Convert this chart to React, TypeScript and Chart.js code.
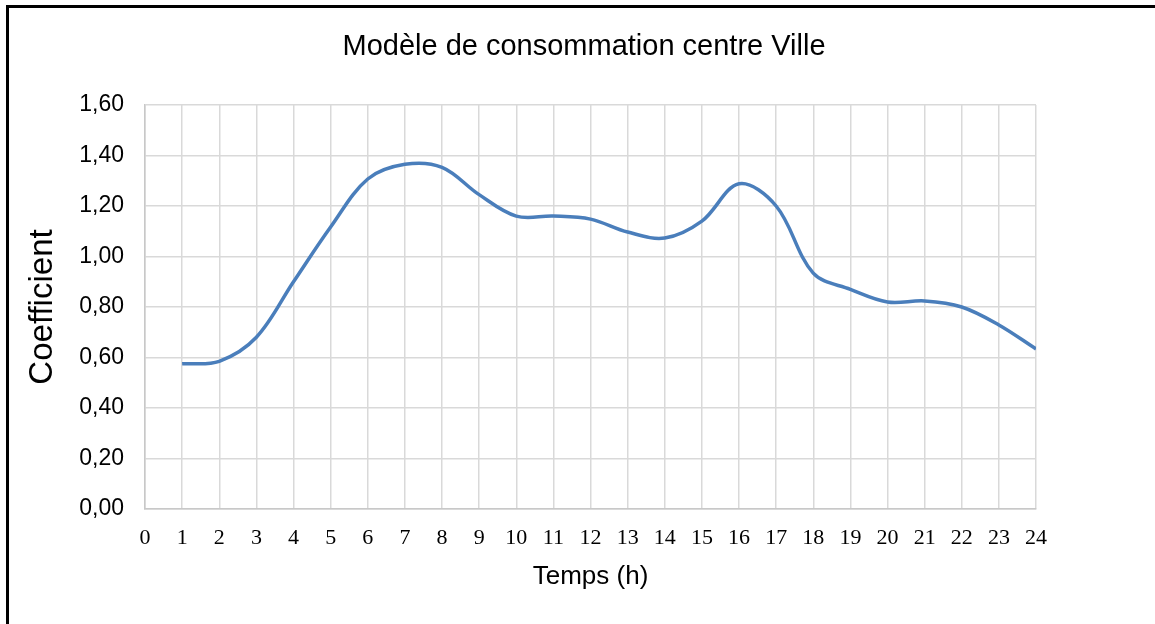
import React, { useEffect, useRef } from "react";
import { Chart, registerables } from "chart.js";

Chart.register(...registerables);

const chartTitle = "Modèle de consommation centre Ville";
const xAxisTitle = "Temps (h)";
const yAxisTitle = "Coefficient";

const hours = [1, 2, 3, 4, 5, 6, 7, 8, 9, 10, 11, 12, 13, 14, 15, 16, 17, 18, 19, 20, 21, 22, 23, 24];
const coefficients = [
  0.575, 0.585, 0.68, 0.9, 1.117, 1.307, 1.365, 1.353, 1.245, 1.16, 1.16, 1.148,
  1.097, 1.073, 1.14, 1.288, 1.2, 0.934, 0.87, 0.82, 0.824, 0.8, 0.729, 0.634,
];

const xTickLabels = [
  "0", "1", "2", "3", "4", "5", "6", "7", "8", "9", "10", "11", "12",
  "13", "14", "15", "16", "17", "18", "19", "20", "21", "22", "23", "24",
];
const yTickLabels = ["0,00", "0,20", "0,40", "0,60", "0,80", "1,00", "1,20", "1,40", "1,60"];

const SANS = '"Liberation Sans", Arial, sans-serif';
const SERIF = '"Liberation Serif", "Times New Roman", serif';

export default function App() {
  const ref = useRef<HTMLCanvasElement>(null);

  useEffect(() => {
    if (!ref.current) return;
    const titlePlugin = {
      id: "fixedTitle",
      afterDraw(chart: any) {
        const ctx = chart.ctx;
        ctx.save();
        ctx.font = `29px ${SANS}`;
        ctx.fillStyle = "#000";
        ctx.textAlign = "center";
        ctx.textBaseline = "alphabetic";
        ctx.fillText(chartTitle, 584, 55);
        ctx.restore();
      },
    };

    const chart = new Chart(ref.current, {
      type: "line",
      data: {
        datasets: [
          {
            data: hours.map((h, i) => ({ x: h, y: coefficients[i] })),
            borderColor: "#4a7ebb",
            borderWidth: 3.5,
            pointRadius: 0,
            tension: 0.35,
            fill: false,
          },
        ],
      },
      options: {
        animation: false,
        responsive: false,
        devicePixelRatio: 1,
        layout: { padding: { top: 105, right: 119, bottom: 0, left: 0 } },
        plugins: {
          legend: { display: false },
          tooltip: { enabled: false },
          title: { display: false },
        },
        scales: {
          x: {
            type: "linear",
            min: 0,
            max: 24,
            afterFit: (s: any) => {
              s.height = 115;
            },
            ticks: {
              stepSize: 1,
              autoSkip: false,
              maxRotation: 0,
              padding: 16,
              color: "#000",
              font: { family: SERIF, size: 22 },
              callback: (v: any) => xTickLabels[Math.round(Number(v))] ?? "",
            },
            grid: { color: "#d9d9d9", lineWidth: 1.5, drawTicks: false },
            border: { color: "#c8c8c8", width: 1.5 },
            title: {
              display: true,
              text: xAxisTitle,
              color: "#000",
              font: { family: SANS, size: 26 },
              padding: { top: 0, bottom: 32 },
            },
          },
          y: {
            type: "linear",
            min: 0,
            max: 1.6,
            afterFit: (s: any) => {
              s.width = 145;
            },
            ticks: {
              stepSize: 0.2,
              padding: 21,
              color: "#000",
              font: { family: SANS, size: 23 },
              callback: (_v: any, i: number) => yTickLabels[i] ?? "",
            },
            grid: { color: "#d9d9d9", lineWidth: 1.5, drawTicks: false },
            border: { color: "#c8c8c8", width: 1.5 },
            title: {
              display: true,
              text: yAxisTitle,
              color: "#000",
              font: { family: SANS, size: 33 },
              padding: { top: 23, bottom: 0 },
            },
          },
        },
      },
      plugins: [titlePlugin],
    } as any);

    return () => chart.destroy();
  }, []);

  return (
    <div
      style={{
        position: "fixed",
        left: 0,
        top: 0,
        width: 1155,
        height: 624,
        overflow: "hidden",
        background: "#fff",
      }}
    >
      <canvas
        ref={ref}
        width={1155}
        height={624}
        style={{ position: "absolute", left: 0, top: 0, width: 1155, height: 624 }}
      />
      <div
        style={{
          position: "absolute",
          left: 6,
          top: 5,
          width: 1250,
          height: 700,
          border: "3px solid #000",
          pointerEvents: "none",
        }}
      />
    </div>
  );
}
